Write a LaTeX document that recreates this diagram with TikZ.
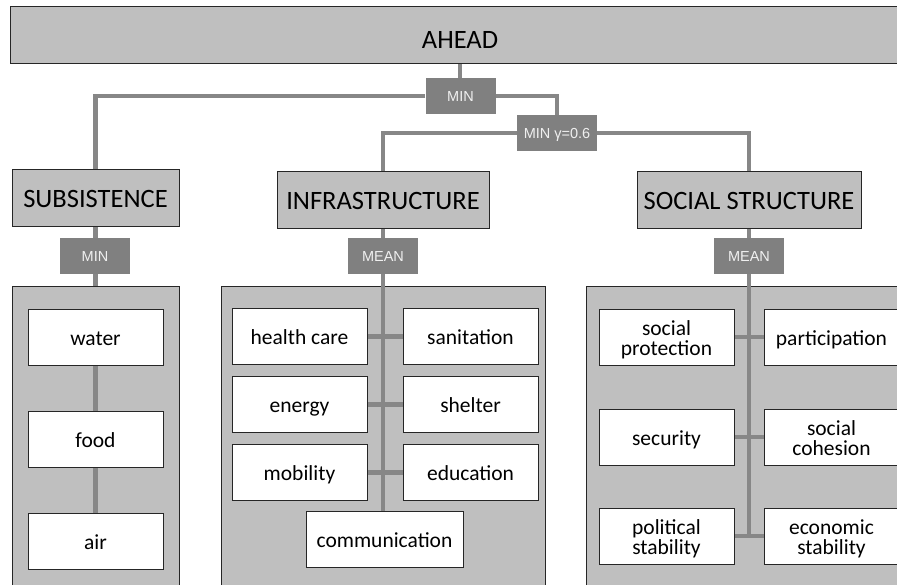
\documentclass[tikz,border=0pt]{standalone}
\usepackage{fontspec}
\setmainfont{Carlito}
\newfontfamily\opfont{Liberation Sans}
\usetikzlibrary{backgrounds}
\definecolor{boxGray}{gray}{0.75}
\definecolor{opGray}{gray}{0.5}
\definecolor{linkGray}{gray}{0.53}
\definecolor{edgeBlack}{gray}{0.15}

\begin{document}
\begin{tikzpicture}[x=1pt, y=-1pt,
    header/.style={draw=edgeBlack, line width=1pt, fill=boxGray, inner sep=0pt, minimum height=57pt, text height=20pt, text depth=1pt, font=\fontsize{26.5}{26.5}\selectfont},
    opbox/.style={fill=opGray, inner sep=0pt, minimum width=70pt, minimum height=36pt, text=white!94!black, text height=10.4pt, text depth=0pt, font=\opfont\fontsize{14.5}{14.5}\selectfont},
    item/.style={draw=edgeBlack, line width=0.8pt, fill=white, inner sep=0pt, minimum width=135pt, minimum height=56pt, align=center, text height=18pt, text depth=2pt, font=\fontsize{21.5}{20}\selectfont},
    twoline/.style={text height=39.5pt},
    panel/.style={draw=edgeBlack, line width=0.8pt, fill=boxGray, inner sep=0pt, minimum width=324pt, minimum height=314pt},
    link/.style={draw=linkGray, line width=4.5pt}]

    \useasboundingbox (0,0) rectangle (897,585);

    % top level
    \node[header, minimum width=900pt, text height=27pt, text depth=0pt] (ahead) at (460,35.5) {AHEAD};
    \node[opbox] (opTop) at (460.5,96) {MIN};
    \node[opbox, minimum width=80pt] (opGamma) at (557,133) {MIN γ=0.6};

    \node[header, minimum width=167pt] (subsist) at (95.5,198.5) {SUBSISTENCE};
    \node[header, minimum width=212pt] (infra) at (383,200) {INFRASTRUCTURE};
    \node[header, minimum width=224pt] (social) at (749,200.5) {SOCIAL STRUCTURE};

    \node[opbox] (opSub) at (95,256) {MIN};
    \node[opbox] (opInfra) at (383,256) {MEAN};
    \node[opbox] (opSocial) at (749,256) {MEAN};

    % subsistence
    \node[item] (water) at (95.5,337) {water};
    \node[item] (food) at (95.5,439) {food};
    \node[item] (air) at (95.5,541) {air};

    % infrastructure
    \node[item] (health) at (299.5,336.5) {health care};
    \node[item] (sanit) at (470.5,336.5) {sanitation};
    \node[item] (energy) at (299.5,404.5) {energy};
    \node[item] (shelter) at (470.5,404.5) {shelter};
    \node[item] (mobil) at (299.5,472.5) {mobility};
    \node[item] (educ) at (470.5,472.5) {education};
    \node[item, minimum width=157pt] (comm) at (384.5,539) {communication};

    % social structure
    \node[item, twoline] (protect) at (666.5,337) {social\\protection};
    \node[item] (particip) at (831.5,337) {participation};
    \node[item] (secur) at (666.5,437) {security};
    \node[item, twoline] (cohes) at (831.5,437) {social\\cohesion};
    \node[item, twoline] (polit) at (666.5,536) {political\\stability};
    \node[item, twoline] (econ) at (831.5,536) {economic\\stability};

    \begin{scope}[on background layer]
        \clip (0,0) rectangle (897,585);

        \node[panel, minimum width=167pt] (subPanel) at (95.5,443) {};
        \node[panel] (infraPanel) at (383,443) {};
        \node[panel] (socialPanel) at (748,443) {};

        \draw[link] (ahead.south) -- (ahead.south |- opTop.north);
        \draw[link] (opTop.west) -| (subsist.north);
        \draw[link] (opTop.east) -| (opGamma.north);
        \draw[link] (opGamma.west) -| (infra.north);
        \draw[link] (opGamma.east) -| (social.north);

        \draw[link] (subsist.south) -- (subPanel.north);
        \draw[link] (water) -- (food) -- (air);

        \draw[link] (infra.south) -- (infra.south |- comm.north);
        \draw[link] (health.east) -- (sanit.west);
        \draw[link] (energy.east) -- (shelter.west);
        \draw[link] (mobil.east) -- (educ.west);

        \draw[link] (social.south) -- ([yshift=2pt]social.south |- polit.east);
        \draw[link] (protect.east) -- (particip.west);
        \draw[link] (secur.east) -- (cohes.west);
        \draw[link] (polit.east) -- (econ.west);
    \end{scope}
\end{tikzpicture}
\end{document}
